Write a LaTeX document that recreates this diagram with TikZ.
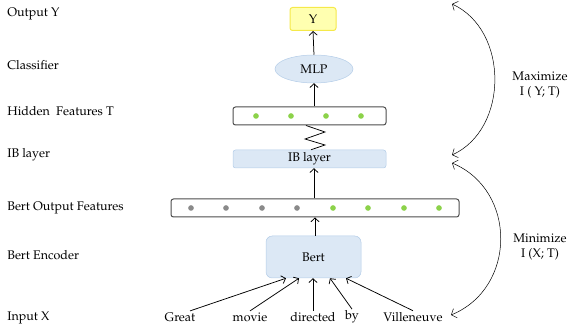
\documentclass[tikz,border=0pt]{standalone}
\usepackage[T1]{fontenc}
\usepackage{mathpazo}
\usepackage{tikz}
\usetikzlibrary{shapes.geometric,arrows.meta}
\definecolor{boxblue}{HTML}{DCE8F5}
\definecolor{lineblue}{HTML}{B4CDE8}
\definecolor{boxyellow}{HTML}{FFFFB0}
\definecolor{lineyellow}{HTML}{F5E94A}
\definecolor{dotgreen}{HTML}{8CD24A}
\definecolor{dotgray}{HTML}{8A8A8A}

\begin{document}
\begin{tikzpicture}[x=0.8pt,y=-0.8pt,font=\normalsize,semithick,
    >={Straight Barb[length=3pt,width=6.5pt]}]
    \tikzstyle{side label}=[anchor=west,inner sep=0]
    \tikzstyle{blue box}=[draw=lineblue,fill=boxblue,rounded corners=2pt,thin]
    \tikzstyle{feat box}=[draw=black!70,rounded corners=2pt,thick]
    \tikzstyle{green dot}=[circle,fill=dotgreen,inner sep=0,minimum size=4.5pt]
    \tikzstyle{gray dot}=[circle,fill=dotgray,inner sep=0,minimum size=4.5pt]
    \tikzstyle{word}=[inner sep=1pt]
    \useasboundingbox (0,0) rectangle (571,331);

    % labels on the left
    \node[side label] (lout) at (7,14) {Output Y};
    \node[side label] (lcls) at (7,65) {Classifier};
    \node[side label] (lhid) at (7,111) {Hidden\ \ Features T};
    \node[side label] (lib) at (7,155) {IB layer};
    \node[side label] (lbof) at (7,208) {Bert Output Features};
    \node[side label] (lenc) at (7,255) {Bert Encoder};
    \node[side label] (lin) at (7,318) {Input X};

    % model
    \node[draw=lineyellow,fill=boxyellow,rounded corners=2pt,thick,minimum width=46*0.8pt,minimum height=23*0.8pt] (y) at (313,19) {Y};
    \node[ellipse,draw=lineblue,fill=boxblue,thin,minimum width=78*0.8pt,minimum height=28*0.8pt] (mlp) at (314,69) {MLP};
    \node[feat box,minimum width=153*0.8pt,minimum height=18*0.8pt] (hid) at (309.5,116) {};
    \node[blue box,minimum width=153*0.8pt,minimum height=18*0.8pt,inner sep=0] (ib) at (309.5,159) {IB layer};
    \node[feat box,minimum width=288*0.8pt,minimum height=18*0.8pt] (bof) at (315,208) {};
    \node[blue box,rounded corners=5pt,minimum width=95*0.8pt,minimum height=42*0.8pt] (bert) at (313.5,257) {Bert};

    \foreach \x in {256,291,326,361}
        \node[green dot] at (\x,116) {};
    \foreach \x in {191,226,262,297}
        \node[gray dot] at (\x,208) {};
    \foreach \x in {333,368,404,439}
        \node[green dot] at (\x,208) {};

    % input words
    \node[word] (w1) at (180,317) {Great};
    \node[word] (w2) at (250,317) {movie};
    \node[word] (w3) at (313,317) {directed};
    \node[word] (w4) at (352,317) {by};
    \node[word] (w5) at (413,317) {Villeneuve};

    \draw[->] (w1.north -| 190,0) -- (bert.south -| 286,0);
    \draw[->] (w2.north) -- (bert.south -| 299,0);
    \draw[->] (w3.north) -- (bert.south -| 313,0);
    \draw[->] (w4.north) -- (bert.south -| 330,0);
    \draw[->] (w5.north) -- (bert.south -| 346,0);

    \draw[->] (bert.north -| 315,0) -- (bof.south -| 315,0);
    \draw[->] (bof.north -| 314,0) -- (ib.south -| 314,0);
    \draw (hid.south -| 306,0) -- (325,132) -- (305,139) -- (325,145) -- (ib.north -| 311,0);
    \draw[->] (hid.north -| 314,0) -- (mlp.south);
    \draw[->] (mlp.north) -- (y.south);

    % mutual information arcs
    \coordinate (a1) at (452,4);
    \coordinate (a2) at (452,155);
    \coordinate (b1) at (452,163);
    \coordinate (b2) at (451,315);
    \draw[<->,thin,>={Straight Barb[length=3.5pt,width=8pt]}] (a1) .. controls (509,30) and (509,129) .. (a2);
    \draw[<->,thin,>={Straight Barb[length=3.5pt,width=8pt]}] (b1) .. controls (517,190) and (517,288) .. (b2);
    \node[align=center] (max) at (540,85) {Maximize\\I ( Y; T)};
    \node[align=center] (min) at (540,247) {Minimize\\I (X; T)};
\end{tikzpicture}
\end{document}
